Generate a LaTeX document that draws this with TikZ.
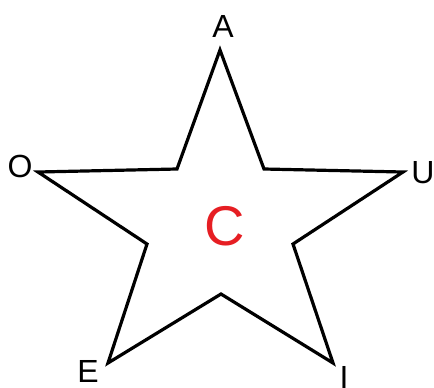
\documentclass[tikz,border=0pt]{standalone}
\usepackage{fontspec}
\setmainfont{Liberation Sans}
\definecolor{starred}{RGB}{230,30,35}
\usetikzlibrary{positioning}

\begin{document}
\begin{tikzpicture}[x=0.5pt, y=-0.5pt, every node/.style={font=\fontsize{16}{19}\selectfont, inner sep=0pt, anchor=base}]
\useasboundingbox (0,0) rectangle (434,387);
\coordinate (a) at (220,50);
\coordinate (u) at (403,172);
\coordinate (i) at (333,363);
\coordinate (e) at (108,363);
\coordinate (o) at (38,172);
\node (la) at (223,37) {A};
\node (lu) at (423,183) {U};
\node (li) at (344,388) {I};
\node (le) at (88,382) {E};
\node (lo) at (20,177) {O};
\node[starred, font=\fontsize{28}{32}\selectfont] (mid) at (225,245) {C};
\draw[line width=1.6pt, line join=miter] (a) -- (264,169) -- (u) -- (293,244) -- (i) -- (221,294) -- (e) -- (147,244) -- (o) -- (177,169) -- cycle;
\end{tikzpicture}
\end{document}
